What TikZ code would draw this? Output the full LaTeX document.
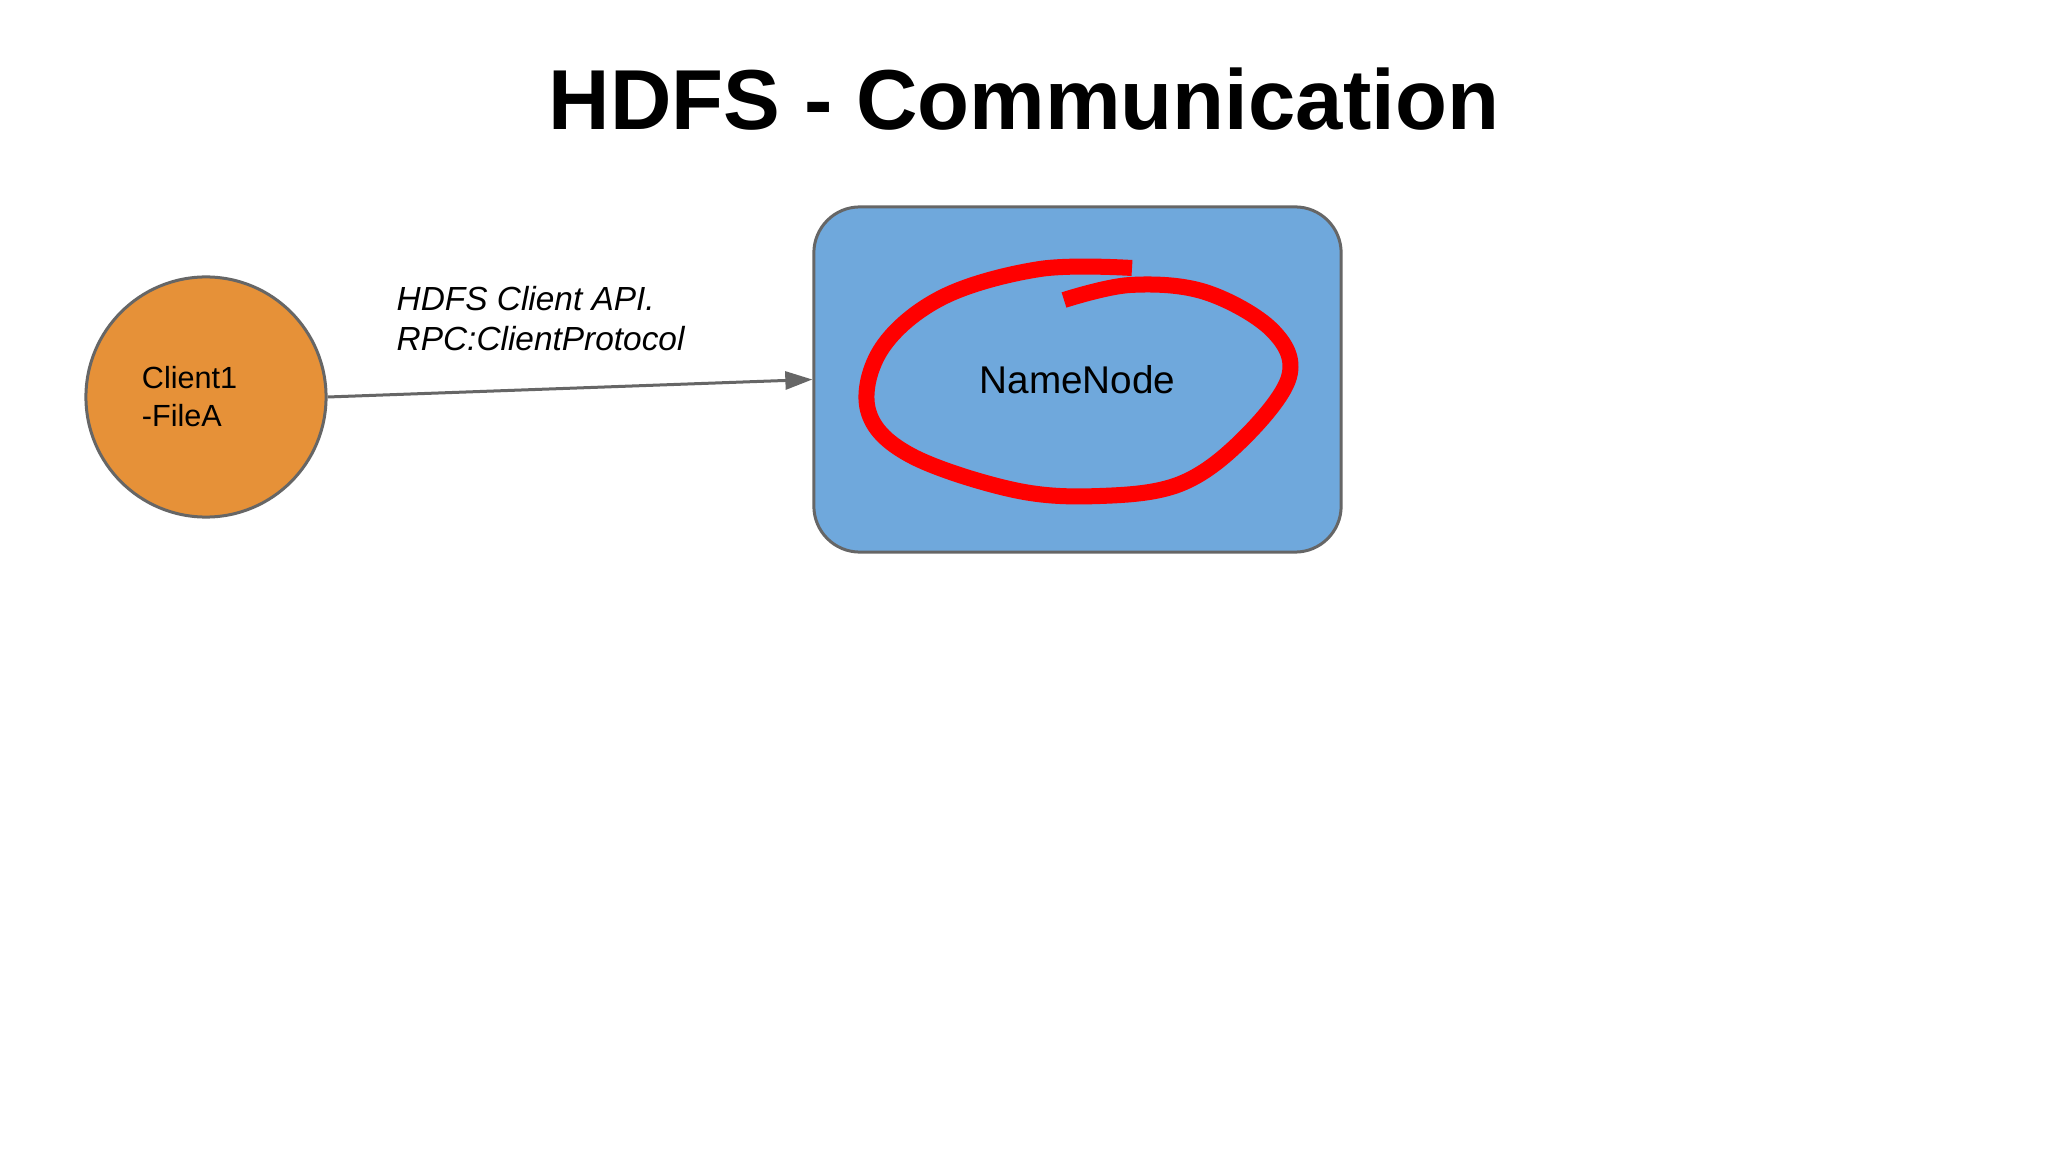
\documentclass[tikz,border=0pt]{standalone}
\usepackage{fontspec}
\setmainfont{Liberation Sans}
\usetikzlibrary{arrows.meta, positioning}
\definecolor{clientorange}{HTML}{E69138}
\definecolor{nodeblue}{HTML}{6FA8DC}
\definecolor{edgegray}{HTML}{666666}

\begin{document}
\begin{tikzpicture}[x=0.01cm, y=-0.01cm,
    clientnode/.style={circle, draw=edgegray, line width=0.03cm, fill=clientorange,
        minimum size=2.4cm, inner sep=0pt, align=left, text width=1.28cm,
        font=\fontsize{8.7pt}{10.8pt}\selectfont},
    servernode/.style={rectangle, rounded corners=0.46cm, draw=edgegray, line width=0.03cm,
        fill=nodeblue, minimum width=5.27cm, minimum height=3.45cm, inner sep=0pt,
        font=\fontsize{11pt}{13pt}\selectfont},
    rpcline/.style={draw=edgegray, line width=0.03cm, -{Triangle[length=0.27cm, width=0.18cm]}},
    scribble/.style={draw=red, line width=0.16cm, line join=round}]
    \useasboundingbox (0,0) rectangle (2048,1152);
    \fill[white] (0,0) rectangle (2048,1152);

    % Title
    \node[anchor=base, font=\fontsize{24.2pt}{29pt}\selectfont\bfseries] (title) at (1024,130) {HDFS - Communication};

    % Client and NameNode
    \node[clientnode] (client) at (206,397) {Client1\\-FileA};
    \node[servernode] (namenode) at (1077.5,379.5) {NameNode};

    % RPC call
    \draw[rpcline] (client.east) -- (namenode.west);
    \node[anchor=west, inner sep=0pt, align=left, font=\fontsize{9.5pt}{11.4pt}\selectfont\itshape] (rpclabel) at (396,319) {HDFS Client API.\\RPC:ClientProtocol};

    % Red highlight
    \draw[scribble] plot[smooth, tension=0.6] coordinates {(1132,268) (1040,269) (943,297) (882,348) (868,410) (910,455) (1014,490) (1100,496) (1180,484) (1242,440) (1289,377) (1272,330) (1205,292) (1130,285) (1064,300)};
\end{tikzpicture}
\end{document}
